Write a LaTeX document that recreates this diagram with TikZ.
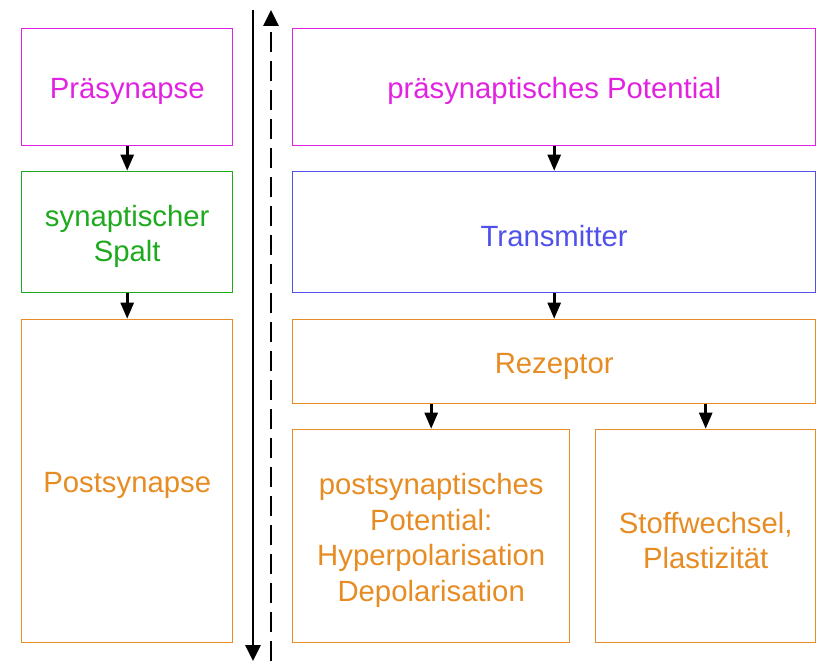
\documentclass[tikz,border=0pt]{standalone}
\usepackage{fontspec}
\setmainfont{Liberation Sans}
\usetikzlibrary{arrows.meta}
\definecolor{cmag}{RGB}{225,35,225}
\definecolor{cgreen}{RGB}{30,170,30}
\definecolor{cblue}{RGB}{80,80,235}
\definecolor{corange}{RGB}{230,140,35}
\newcommand\liftup{\rule{0pt}{29.5pt}}
\begin{document}
\begin{tikzpicture}[x=1pt,y=-1pt,
  box/.style={draw, line width=1.4pt, rectangle, anchor=north west, inner sep=0pt, align=center,
    font=\fontsize{29.3}{35.5}\selectfont},
  flow/.style={-{Triangle[length=16pt,width=13pt]}, line width=2.6pt, black, shorten >=0.3pt},
  mid/.style={line width=2.8pt, black}]
\useasboundingbox (0,0) rectangle (816,661);
% left column
\node[box, draw=cmag, text=cmag, minimum width=211pt, minimum height=117pt] (pre) at (21,28) {\liftup Präsynapse};
\node[box, draw=cgreen, text=cgreen, minimum width=211pt, minimum height=121pt] (spalt) at (21,171) {\liftup synaptischer\\Spalt};
\node[box, draw=corange, text=corange, minimum width=211pt, minimum height=323pt] (post) at (21,319) {\liftup Postsynapse};
% right column
\node[box, draw=cmag, text=cmag, minimum width=523pt, minimum height=117pt] (prepot) at (292,28) {\liftup präsynaptisches Potential};
\node[box, draw=cblue, text=cblue, minimum width=523pt, minimum height=121pt] (trans) at (292,171) {\liftup Transmitter};
\node[box, draw=corange, text=corange, minimum width=523pt, minimum height=84pt] (rez) at (292,319) {\liftup Rezeptor};
\node[box, draw=corange, text=corange, minimum width=277pt, minimum height=213pt] (psp) at (292,429) {\liftup postsynaptisches\\Potential:\\Hyperpolarisation\\Depolarisation};
\node[box, draw=corange, text=corange, minimum width=220pt, minimum height=213pt] (stoff) at (595,429) {\liftup Stoffwechsel,\\Plastizität};
% flow arrows
\draw[flow] (pre.south) -- (spalt.north);
\draw[flow] (spalt.south) -- (post.north);
\draw[flow] (prepot.south) -- (trans.north);
\draw[flow] (trans.south) -- (rez.north);
\draw[flow] (rez.south -| psp.north) -- (psp.north);
\draw[flow] (rez.south -| stoff.north) -- (stoff.north);
% middle lines
\coordinate (stop) at (253,10);
\coordinate (sbot) at (253,661);
\coordinate (dtop) at (271,10);
\coordinate (dbot) at (271,661);
\draw[mid, -{Triangle[length=16pt,width=15pt]}] (stop) -- (sbot);
\draw[mid, dash pattern=on 20pt off 9pt, -{Triangle[length=16pt,width=15pt]}] (dbot) -- (dtop);
\end{tikzpicture}
\end{document}
